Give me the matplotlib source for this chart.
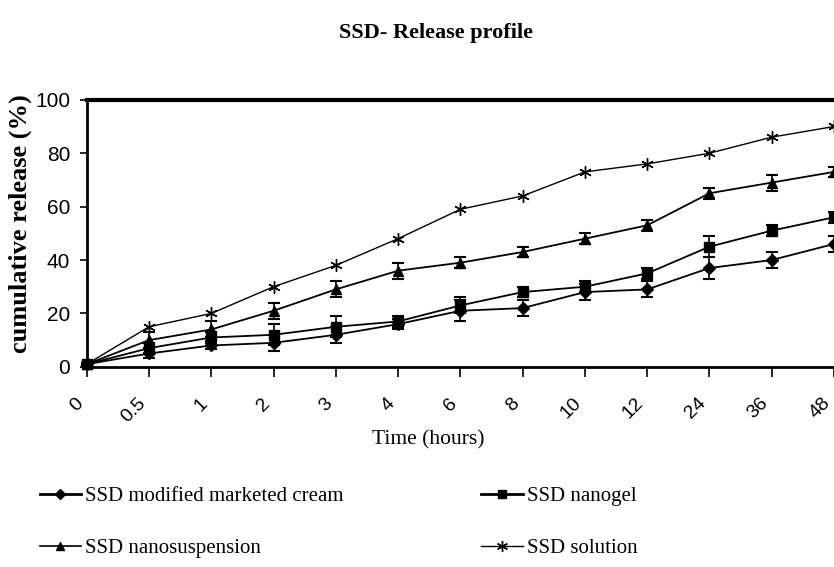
import numpy as np
import matplotlib
matplotlib.use("Agg")
import matplotlib.pyplot as plt
import matplotlib.transforms as mtransforms
from matplotlib.lines import Line2D

# data
time_labels = ["0", "0.5", "1", "2", "3", "4", "6", "8", "10", "12", "24", "36", "48"]
cream = [1, 5, 8, 9, 12, 16, 21, 22, 28, 29, 37, 40, 46]
cream_err = [0.5, 1.5, 1.5, 3, 3, 2, 4, 3, 3, 3, 4, 3, 3]
nanogel = [1, 7, 11, 12, 15, 17, 23, 28, 30, 35, 45, 51, 56]
nanogel_err = [0.5, 2, 2, 4, 4, 2, 3, 2, 2, 2, 4, 2, 2]
nanosusp = [1, 10, 14, 21, 29, 36, 39, 43, 48, 53, 65, 69, 73]
nanosusp_err = [0.5, 3, 3, 3, 3, 3, 2, 2, 2, 2, 2, 3, 2]
solution = [1, 15, 20, 30, 38, 48, 59, 64, 73, 76, 80, 86, 90]

plt.rcParams["font.family"] = ["Liberation Sans", "DejaVu Sans"]
serif = ["Liberation Serif", "DejaVu Serif"]

fig = plt.figure(figsize=(8.34, 5.67), dpi=100)
ax = fig.add_axes([0.104, 0.353, 0.896, 0.471])

x = np.arange(len(time_labels))

eb_kw = dict(color="black", ecolor="black", elinewidth=1.2, capsize=4, capthick=1.5,
             clip_on=False, zorder=3)
ax.errorbar(x, cream, yerr=cream_err, marker="D", markersize=6, linewidth=1.3, **eb_kw)
ax.errorbar(x, nanogel, yerr=nanogel_err, marker="s", markersize=7, linewidth=1.3, **eb_kw)
ax.errorbar(x, nanosusp, yerr=nanosusp_err, marker="^", markersize=7, linewidth=1.3, **eb_kw)
ax.plot(x, solution, color="black", marker=(6, 2, 0), markersize=9, linewidth=1.0,
        markeredgewidth=1.0, clip_on=False, zorder=3)

ax.set_xlim(0, len(time_labels) - 1)
ax.set_ylim(0, 100)
ax.set_yticks([0, 20, 40, 60, 80, 100])
ax.set_xticks(x)
ax.set_xticklabels(time_labels, rotation=45, ha="right", va="top")
shift = mtransforms.ScaledTranslation(-0.02, 0, fig.dpi_scale_trans)
for lbl in ax.get_xticklabels():
    lbl.set_transform(lbl.get_transform() + shift)
ax.tick_params(axis="y", labelsize=15, length=5, width=1.2, direction="out", pad=7)
ax.tick_params(axis="x", labelsize=14, length=7, width=1.2, direction="out", pad=13)

ax.spines["right"].set_visible(False)
ax.spines["top"].set_linewidth(3)
ax.spines["left"].set_linewidth(2)
ax.spines["bottom"].set_linewidth(2)

fig.text(0.513, 0.224, "Time (hours)", family=serif, fontsize=15.5,
         ha="center", va="center")
fig.text(0.024, 0.605, "cumulative release (%)", family=serif, fontweight="bold",
         fontsize=19, rotation=90, ha="center", va="center")
fig.text(0.523, 0.942, "SSD- Release profile", family=serif, fontweight="bold",
         fontsize=16, ha="center", va="center")

# legend: column-first order gives rows (cream, nanogel) / (nanosusp, solution)
handles = [
    Line2D([], [], color="black", lw=2, marker="D", markersize=5),
    Line2D([], [], color="black", lw=1.2, marker="^", markersize=6),
    Line2D([], [], color="black", lw=2, marker="s", markersize=6),
    Line2D([], [], color="black", lw=1.0, marker=(6, 2, 0), markersize=8, markeredgewidth=1.0),
]
labels = ["SSD modified marketed cream", "SSD nanosuspension",
          "SSD nanogel", "SSD solution"]
fig.legend(handles, labels, loc="upper left", bbox_to_anchor=(0.035, 0.16),
           ncol=2, frameon=False, prop={"family": serif, "size": 15},
           borderpad=0, handlelength=2.0, handletextpad=0.2, columnspacing=6.6,
           labelspacing=1.55)

fig.savefig("out.png", dpi=100)
